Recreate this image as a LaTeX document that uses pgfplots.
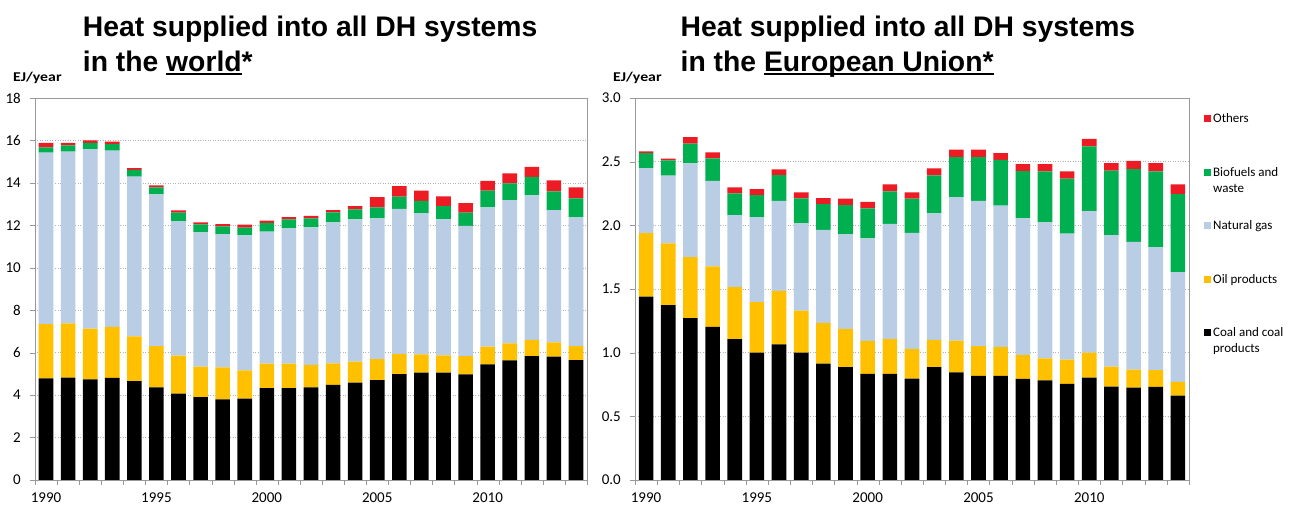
\documentclass[border=0pt]{standalone}
\usepackage{pgfplots}
\usepackage{pgfplotstable}
\pgfplotsset{compat=1.18}
\usepackage{fontspec}
\setmainfont{Carlito}
\newfontfamily\titlefont{Liberation Sans}
\definecolor{coalc}{RGB}{0,0,0}
\definecolor{oilc}{RGB}{255,192,0}
\definecolor{gasc}{RGB}{185,205,229}
\definecolor{bioc}{RGB}{0,176,80}
\definecolor{othc}{RGB}{237,28,36}
\newsavebox\ulbox
\newcommand\myul[1]{\sbox\ulbox{#1}\rlap{\rule[-3.3pt]{\wd\ulbox}{1.7pt}}\usebox\ulbox}

\pgfplotstableread{
x coal oil gas bio oth
0 4.79 2.56 8.07 0.25 0.21
1 4.82 2.56 8.09 0.30 0.11
2 4.74 2.39 8.45 0.31 0.11
3 4.81 2.41 8.30 0.31 0.11
4 4.66 2.11 7.52 0.32 0.09
5 4.37 1.94 7.15 0.33 0.09
6 4.07 1.79 6.34 0.40 0.11
7 3.91 1.43 6.33 0.38 0.09
8 3.80 1.51 6.27 0.37 0.11
9 3.83 1.34 6.36 0.36 0.14
10 4.33 1.15 6.22 0.42 0.10
11 4.33 1.15 6.38 0.42 0.11
12 4.37 1.05 6.48 0.43 0.12
13 4.48 1.02 6.64 0.47 0.11
14 4.59 0.99 6.70 0.47 0.16
15 4.71 0.98 6.64 0.52 0.48
16 4.99 0.95 6.83 0.58 0.50
17 5.06 0.86 6.64 0.59 0.48
18 5.06 0.81 6.41 0.63 0.46
19 4.98 0.86 6.13 0.63 0.45
20 5.45 0.83 6.57 0.78 0.47
21 5.64 0.80 6.75 0.79 0.47
22 5.84 0.76 6.81 0.87 0.48
23 5.81 0.68 6.23 0.88 0.52
24 5.65 0.66 6.07 0.89 0.52
}\world

\pgfplotstableread{
x coal oil gas bio oth
0 1.441 0.498 0.511 0.118 0.013
1 1.373 0.485 0.532 0.120 0.013
2 1.271 0.479 0.736 0.155 0.052
3 1.203 0.474 0.673 0.176 0.047
4 1.106 0.408 0.566 0.171 0.047
5 1.001 0.396 0.668 0.173 0.047
6 1.066 0.420 0.707 0.202 0.044
7 1.001 0.330 0.684 0.196 0.048
8 0.914 0.320 0.731 0.202 0.047
9 0.886 0.301 0.741 0.231 0.050
10 0.833 0.260 0.804 0.236 0.052
11 0.833 0.273 0.906 0.254 0.055
12 0.797 0.233 0.911 0.268 0.050
13 0.886 0.214 0.993 0.299 0.055
14 0.846 0.249 1.127 0.314 0.058
15 0.817 0.234 1.142 0.343 0.058
16 0.817 0.228 1.109 0.361 0.053
17 0.794 0.189 1.071 0.372 0.055
18 0.783 0.173 1.067 0.401 0.057
19 0.755 0.191 0.988 0.432 0.058
20 0.804 0.197 1.111 0.508 0.058
21 0.734 0.157 1.032 0.506 0.060
22 0.726 0.141 1.004 0.571 0.065
23 0.731 0.131 0.964 0.598 0.065
24 0.663 0.107 0.862 0.613 0.076
}\eu

\pgfplotsset{
  dh/.style={
    ybar stacked,
    scale only axis,
    anchor=south west,
    height=382pt,
    xmin=-0.5, xmax=24.5, ymin=0,
    xtick={0,5,10,15,20},
    xticklabels={1990,1995,2000,2005,2010},
    minor xtick={-0.5,0.5,...,24.5},
    every major x tick/.append style={draw=none},
    tick align=outside,
    tick pos=left,
    major tick length=5pt,
    minor tick length=5pt,
    tick style={black!40},
    axis line style={black!40},
    ymajorgrids,
    major grid style={black!30, dash pattern=on 1pt off 1.5pt},
    /pgf/number format/assume math mode=true,
    ticklabel style={font=\fontsize{15}{15}\selectfont},
    yticklabel style={anchor=east, inner sep=0pt, xshift=-9pt},
    xticklabel style={anchor=north, inner sep=0pt, yshift=-8pt},
    every axis plot/.append style={draw=none, bar width=14.6pt},
  }
}

\begin{document}
\begin{tikzpicture}
\useasboundingbox (0pt,0pt) rectangle (1296pt,505pt);

\node[anchor=base west, inner sep=0pt, font=\titlefont\bfseries\fontsize{28.3}{34}\selectfont] at (82.7pt,468.3pt) {Heat supplied into all DH systems};
\node[anchor=base west, inner sep=0pt, font=\titlefont\bfseries\fontsize{28.3}{34}\selectfont] at (82.7pt,433.3pt) {in the \myul{world}*};
\node[anchor=base west, inner sep=0pt, font=\titlefont\bfseries\fontsize{28.3}{34}\selectfont] at (680.5pt,468.3pt) {Heat supplied into all DH systems};
\node[anchor=base west, inner sep=0pt, font=\titlefont\bfseries\fontsize{28.3}{34}\selectfont] at (680.5pt,433.3pt) {in the \myul{European Union*}};

\node[anchor=base west, inner sep=0pt, yscale=0.85, font=\bfseries\fontsize{15.8}{16}\selectfont] at (13pt,423pt) {EJ/year};
\node[anchor=base west, inner sep=0pt, yscale=0.85, font=\bfseries\fontsize{15.8}{16}\selectfont] at (613pt,423pt) {EJ/year};

\begin{axis}[dh, at={(35pt,25pt)}, width=552pt,
  ymax=18, ytick={0,2,...,18}]
\addplot[fill=coalc] table[x=x,y=coal]{\world};
\addplot[fill=oilc] table[x=x,y=oil]{\world};
\addplot[fill=gasc] table[x=x,y=gas]{\world};
\addplot[fill=bioc] table[x=x,y=bio]{\world};
\addplot[fill=othc] table[x=x,y=oth]{\world};
\end{axis}

\begin{axis}[dh, at={(635pt,25pt)}, width=554pt,
  ymax=3, ytick={0,0.5,...,3},
  yticklabel style={/pgf/number format/.cd, fixed, fixed zerofill, precision=1},
  reverse legend,
  legend image code/.code={\fill[#1,draw=none] (0pt,-3.5pt) rectangle (7pt,3.5pt);},
  legend style={at={(1.027,0.965)}, anchor=north west, draw=none, fill=none,
    font=\fontsize{13}{16}\selectfont, row sep=39pt, inner sep=0pt,
    cells={anchor=west, inner sep=0pt},
    /tikz/every even column/.append style={column sep=4pt}},
  legend cell align=left]
\addplot[fill=coalc] table[x=x,y=coal]{\eu};
\addplot[fill=oilc] table[x=x,y=oil]{\eu};
\addplot[fill=gasc] table[x=x,y=gas]{\eu};
\addplot[fill=bioc] table[x=x,y=bio]{\eu};
\addplot[fill=othc] table[x=x,y=oth]{\eu};
\legend{{\parbox[t][38pt][t]{80pt}{Coal and coal\\products}},
        {\parbox[t][38pt][t]{80pt}{Oil products}},
        {\parbox[t][38pt][t]{80pt}{Natural gas}},
        {\parbox[t][38pt][t]{80pt}{Biofuels and\\waste}},
        {\parbox[t][38pt][t]{80pt}{Others}}}
\end{axis}
\end{tikzpicture}
\end{document}
